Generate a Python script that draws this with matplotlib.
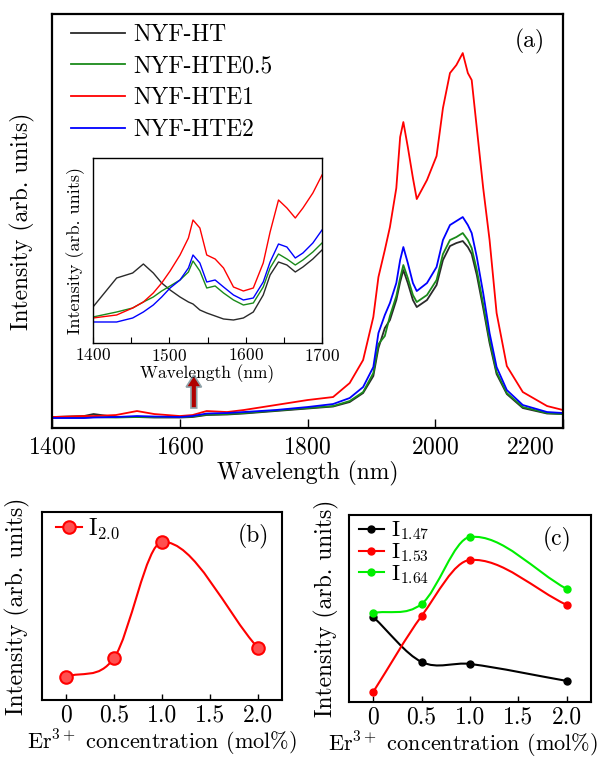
import numpy as np
import matplotlib
matplotlib.use("Agg")
from matplotlib import pyplot as plt
from matplotlib.path import Path
from matplotlib.patches import PathPatch
from matplotlib.lines import Line2D
from matplotlib.transforms import ScaledTranslation

plt.rcParams['font.family'] = 'serif'
plt.rcParams['font.serif'] = ['cmr10']
plt.rcParams['mathtext.fontset'] = 'cm'
plt.rcParams['axes.formatter.use_mathtext'] = True

# ---- (a) main spectra (arb. units)
wl_main = [1400, 1450, 1465, 1500, 1533, 1560, 1600, 1620, 1642, 1674, 1700, 1750,
           1800, 1840, 1866, 1887, 1903, 1911, 1921, 1929, 1939, 1945, 1950, 1957,
           1965, 1971, 1987, 2002, 2012, 2023, 2033, 2043, 2051, 2057, 2065, 2075,
           2085, 2096, 2112, 2137, 2175, 2200]
ht_main = [11, 12, 14, 11, 11, 10.5, 10.5, 11, 13, 13.5, 14.5, 17,
           19.5, 21.5, 26, 35, 52, 80, 100, 108, 128, 146, 158, 145,
           128, 121, 128, 143, 168, 182, 185, 187, 181, 174, 153, 120,
           85, 54, 34, 20, 14.5, 14]
hte05_main = [10.5, 10.5, 11, 10.5, 11, 11, 11, 11.5, 13.5, 14, 15, 17.5,
              20, 22, 27, 36, 55, 84, 92, 112, 132, 150, 163, 150,
              133, 126, 133, 148, 174, 188, 191, 195, 188, 180, 158, 124,
              88, 56, 35, 21, 15, 14]
hte1_main = [11, 12, 12, 13, 17, 14, 12, 13, 17, 16, 18, 23,
             28, 31, 45, 68, 111, 151, 178, 201, 240, 291, 306, 281,
             250, 229, 248, 272, 320, 355, 363, 375, 355, 348, 300, 240,
             188, 115, 62, 36, 22, 18]
hte2_main = [10, 10, 10.5, 11, 12, 11.5, 11, 12, 14.5, 15, 16, 18,
             21, 24, 30, 41, 61, 95, 113, 125, 145, 168, 181, 165,
             145, 137, 145, 161, 188, 203, 207, 211, 203, 195, 171, 135,
             95, 61, 38, 23, 16, 15]

# ---- inset, 1400-1700 nm
wl_inset = [1400, 1431, 1452, 1466, 1479, 1490, 1501, 1514, 1525, 1531, 1540, 1549,
            1560, 1571, 1584, 1597, 1610, 1623, 1632, 1643, 1654, 1665, 1675, 1688, 1700]
ht_inset = [36, 65, 70, 79, 70, 60, 53, 46, 41, 39, 33, 30,
            27, 24, 23, 25, 31, 48, 68, 81, 78, 71, 76, 84, 93]
hte05_inset = [26, 31, 35, 41, 46, 52, 57, 63, 71, 82, 72, 55,
               57, 50, 43, 38, 40, 56, 75, 89, 84, 78, 83, 91, 100]
hte1_inset = [25, 28, 35, 41, 50, 60, 72, 88, 105, 123, 115, 88,
              84, 75, 56, 52, 55, 80, 111, 143, 135, 125, 135, 150, 168]
hte2_inset = [21, 21, 25, 31, 38, 46, 55, 63, 75, 88, 80, 61,
              63, 56, 48, 43, 45, 61, 81, 99, 96, 85, 90, 100, 113]

series_labels = ['NYF-HT', 'NYF-HTE0.5', 'NYF-HTE1', 'NYF-HTE2']
series_colors = ['#2a2a2a', '#1a8a1a', '#ff0000', '#0000ff']

# ---- (b) and (c)
er_conc = [0, 0.5, 1.0, 2.0]
i_20 = [25, 44, 160, 54]
i_147 = [87, 42, 40, 23]
i_153 = [12, 88, 144, 99]
i_164 = [91, 100, 167, 115]


def smooth_path(x, y):
    # cubic through the points, tangents from neighbouring points
    x = np.asarray(x, float)
    y = np.asarray(y, float)
    m = np.empty_like(y)
    m[1:-1] = (y[2:] - y[:-2]) / (x[2:] - x[:-2])
    m[0] = (y[1] - y[0]) / (x[1] - x[0])
    m[-1] = (y[-1] - y[-2]) / (x[-1] - x[-2])
    verts = [(x[0], y[0])]
    codes = [Path.MOVETO]
    for i in range(len(x) - 1):
        h = x[i + 1] - x[i]
        verts += [(x[i] + h / 3, y[i] + m[i] * h / 3),
                  (x[i + 1] - h / 3, y[i + 1] - m[i + 1] * h / 3),
                  (x[i + 1], y[i + 1])]
        codes += [Path.CURVE4] * 3
    return Path(verts, codes)


fig = plt.figure(figsize=(6.15, 7.6), dpi=100)

# ---------------- (a)
ax = fig.add_axes([0.0846, 0.4368, 0.8309, 0.5447])
for yv, lab, col in zip([ht_main, hte05_main, hte1_main, hte2_main], series_labels, series_colors):
    ax.plot(wl_main, yv, color=col, lw=1.3, label=lab)
ax.set_xlim(1400, 2200)
ax.set_ylim(0, 414)
ax.set_yticks([])
ax.set_xticks([1400, 1600, 1800, 2000, 2200])
ax.tick_params(axis='x', direction='in', length=6.5, width=1, labelsize=17, pad=6)
for s in ax.spines.values():
    s.set_linewidth(1.6)
ax.set_xlabel('Wavelength (nm)', fontsize=17, labelpad=2)
ax.set_ylabel('Intensity (arb. units)', fontsize=17, labelpad=12)
last = ax.get_xticklabels()[-1]
last.set_transform(last.get_transform() + ScaledTranslation(-0.33, 0, fig.dpi_scale_trans))
ax.legend(loc='upper left', bbox_to_anchor=(0.037, 0.976), frameon=False, fontsize=17,
          handlelength=2.3, handletextpad=0.35, labelspacing=0.4, borderpad=0, borderaxespad=0)
ax.text(0.935, 0.935, '(a)', transform=ax.transAxes, fontsize=17, ha='center', va='center')

# arrow pointing up to the inset
ax.arrow(1622, 20, 0, 21, width=9, head_width=24, head_length=12, length_includes_head=False,
         fc='#b00000', ec='#8fa3aa', lw=1.2, zorder=5)

# ---------------- inset
axin = fig.add_axes([0.1512, 0.5487, 0.3724, 0.2434])
for yv, col in zip([ht_inset, hte05_inset, hte1_inset, hte2_inset], series_colors):
    axin.plot(wl_inset, yv, color=col, lw=1.0)
axin.set_xlim(1400, 1700)
axin.set_ylim(0, 185)
axin.set_yticks([])
axin.set_xticks([1400, 1500, 1600, 1700])
axin.set_xticks([1450, 1550, 1650], minor=True)
axin.tick_params(axis='x', which='both', direction='in', length=4, width=0.8, labelsize=12.5, pad=3)
for s in axin.spines.values():
    s.set_linewidth(1.0)
axin.set_xlabel('Wavelength (nm)', fontsize=12.5, labelpad=0)
axin.set_ylabel('Intensity (arb. units)', fontsize=13, labelpad=6)

# ---------------- (b)
axb = fig.add_axes([0.0683, 0.0790, 0.3902, 0.2473])
axb.add_patch(PathPatch(smooth_path(er_conc, i_20), fc='none', ec='red', lw=1.5))
axb.plot(er_conc, i_20, 'o', ls='none', ms=9, mfc='#ff5050', mec='red', mew=1.5)
axb.set_xlim(-0.25, 2.25)
axb.set_ylim(2, 190)
axb.legend(handles=[Line2D([], [], color='red', lw=1.5, marker='o', ms=9, mfc='#ff5050',
                           mec='red', mew=1.5, label='I$_{2.0}$')],
           loc='upper left', bbox_to_anchor=(0.06, 0.975), frameon=False, fontsize=17,
           handlelength=1.1, handletextpad=0.25, borderpad=0, borderaxespad=0)
axb.text(0.88, 0.87, '(b)', transform=axb.transAxes, fontsize=17, ha='center', va='center')

# ---------------- (c)
axc = fig.add_axes([0.5675, 0.0764, 0.3935, 0.2460])
handles = []
for yv, col, lab in zip([i_147, i_153, i_164], ['black', 'red', '#00ee00'],
                        ['I$_{1.47}$', 'I$_{1.53}$', 'I$_{1.64}$']):
    axc.add_patch(PathPatch(smooth_path(er_conc, yv), fc='none', ec=col, lw=1.5))
    axc.plot(er_conc, yv, 'o', ls='none', ms=5, color=col)
    handles.append(Line2D([], [], color=col, lw=1.5, marker='o', ms=5, label=lab))
axc.set_xlim(-0.25, 2.25)
axc.set_ylim(2, 189)
axc.legend(handles=handles, loc='upper left', bbox_to_anchor=(0.04, 0.975), frameon=False,
           fontsize=16, handlelength=1.15, handletextpad=0.3, labelspacing=-0.05,
           borderpad=0, borderaxespad=0)
axc.text(0.86, 0.87, '(c)', transform=axc.transAxes, fontsize=17, ha='center', va='center')

for a, pad in [(axb, 9), (axc, 7)]:
    a.set_xticks([0, 0.5, 1.0, 1.5, 2.0])
    a.set_xticklabels(['0', '0.5', '1.0', '1.5', '2.0'])
    a.set_yticks([])
    a.tick_params(axis='x', direction='in', length=4, width=1, labelsize=17, pad=3)
    for s in a.spines.values():
        s.set_linewidth(1.5)
    a.set_xlabel('Er$^{3+}$ concentration (mol%)', fontsize=16, labelpad=1)
    a.set_ylabel('Intensity (arb. units)', fontsize=17, labelpad=pad)
axc.xaxis.label.set_x(0.47)

fig.savefig('out.png', dpi=100)
